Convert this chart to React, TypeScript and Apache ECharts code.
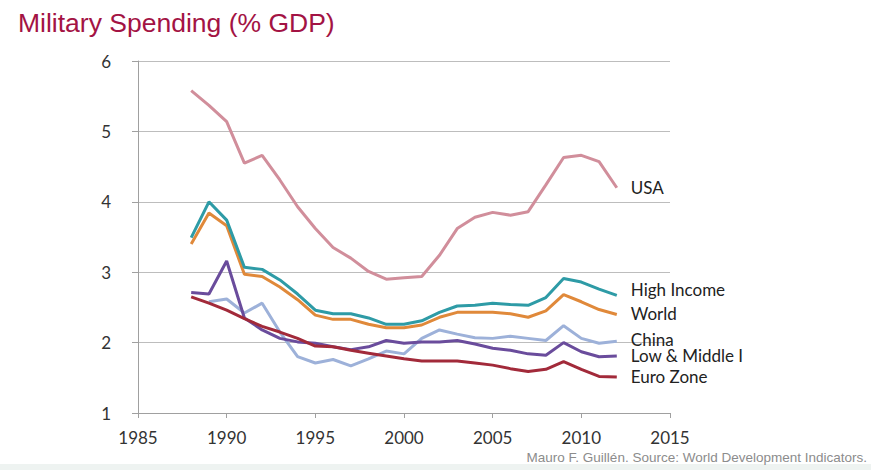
import React, { useEffect, useRef } from "react";
import * as echarts from "echarts";

const years = [1988, 1989, 1990, 1991, 1992, 1993, 1994, 1995, 1996, 1997, 1998, 1999, 2000, 2001, 2002, 2003, 2004, 2005, 2006, 2007, 2008, 2009, 2010, 2011, 2012];

const usa = [5.58, 5.37, 5.14, 4.55, 4.66, 4.31, 3.93, 3.62, 3.35, 3.2, 3.01, 2.9, 2.92, 2.94, 3.24, 3.62, 3.78, 3.85, 3.81, 3.86, 4.24, 4.63, 4.66, 4.57, 4.2];
const highIncome = [3.49, 4.0, 3.74, 3.07, 3.04, 2.89, 2.69, 2.46, 2.41, 2.41, 2.35, 2.26, 2.26, 2.31, 2.43, 2.52, 2.53, 2.56, 2.54, 2.53, 2.64, 2.91, 2.86, 2.76, 2.67];
const world = [3.4, 3.84, 3.66, 2.97, 2.94, 2.79, 2.61, 2.39, 2.33, 2.33, 2.26, 2.21, 2.21, 2.25, 2.36, 2.43, 2.43, 2.43, 2.41, 2.36, 2.45, 2.68, 2.58, 2.47, 2.4];
const china = [null, 2.58, 2.62, 2.42, 2.56, 2.15, 1.8, 1.71, 1.76, 1.67, 1.77, 1.88, 1.84, 2.06, 2.18, 2.12, 2.07, 2.06, 2.09, 2.06, 2.03, 2.24, 2.06, 1.99, 2.02];
const lowMiddle = [2.71, 2.69, 3.16, 2.35, 2.18, 2.06, 2.01, 1.99, 1.94, 1.9, 1.94, 2.03, 1.99, 2.01, 2.01, 2.03, 1.98, 1.92, 1.89, 1.84, 1.82, 2.0, 1.87, 1.8, 1.81];
const euroZone = [2.65, 2.56, 2.46, 2.34, 2.23, 2.15, 2.06, 1.95, 1.94, 1.89, 1.85, 1.81, 1.77, 1.74, 1.74, 1.74, 1.71, 1.68, 1.63, 1.59, 1.62, 1.73, 1.62, 1.52, 1.51];

const xTicks = { min: 1985, max: 2015, interval: 5 };
const yTicks = { min: 1, max: 6, interval: 1 };

const titleText = "Military Spending (% GDP)";
const sourceText = "Mauro F. Guillén. Source: World Development Indicators.";

const seriesDefs = [
  { name: "World", values: world, color: "#E0893A", dy: -1 },
  { name: "High Income", values: highIncome, color: "#2E9BA6", dy: -6 },
  { name: "China", values: china, color: "#9DB1D9", dy: -2 },
  { name: "Low & Middle I", values: lowMiddle, color: "#6A4C9C", dy: 0 },
  { name: "Euro Zone", values: euroZone, color: "#A22A3A", dy: -1 },
  { name: "USA", values: usa, color: "#D18E9B", dy: 0 },
];

const labelFont = "Lato, 'Open Sans', sans-serif";

export default function App() {
  const ref = useRef<HTMLDivElement>(null);
  useEffect(() => {
    if (!ref.current) return;
    const chart = echarts.init(ref.current, undefined, { renderer: "svg" });
    chart.setOption({
      animation: false,
      backgroundColor: "#ffffff",
      title: {
        text: titleText,
        left: 13,
        top: 4,
        textStyle: {
          fontFamily: "'Liberation Sans', Arial, sans-serif",
          fontSize: 26.5,
          fontWeight: "normal",
          color: "#A31344",
        },
      },
      grid: { left: 138, right: 201, top: 61, bottom: 57 },
      xAxis: {
        type: "value",
        min: xTicks.min,
        max: xTicks.max,
        interval: xTicks.interval,
        axisLine: { show: true, lineStyle: { color: "#a0a0a0", width: 1 } },
        axisTick: { show: true, length: 5, lineStyle: { color: "#a0a0a0" } },
        splitLine: { show: false },
        axisLabel: {
          margin: 16,
          color: "#333333",
          fontFamily: labelFont,
          fontSize: 17,
          formatter: (v: number) => String(v),
        },
      },
      yAxis: {
        type: "value",
        min: yTicks.min,
        max: yTicks.max,
        interval: yTicks.interval,
        axisLine: { show: true, lineStyle: { color: "#a0a0a0", width: 1 } },
        axisTick: { show: true, length: 6, lineStyle: { color: "#a0a0a0" } },
        splitLine: { show: true, lineStyle: { color: "#bdbdbd", width: 1 } },
        axisLabel: {
          margin: 27,
          color: "#333333",
          fontFamily: labelFont,
          fontSize: 17,
        },
      },
      series: seriesDefs.map((s) => ({
        type: "line",
        name: s.name,
        data: years
          .map((y, i) => [y, s.values[i]])
          .filter((p) => p[1] !== null && p[1] !== undefined),
        showSymbol: false,
        symbol: "none",
        lineStyle: { color: s.color, width: 3 },
        itemStyle: { color: s.color },
        endLabel: {
          show: true,
          formatter: "{a}",
          distance: 14,
          offset: [0, s.dy],
          color: "#222222",
          fontFamily: labelFont,
          fontSize: 17,
        },
        emphasis: { disabled: true },
      })),
      graphic: [
        {
          type: "rect",
          shape: { x: 0, y: 464, width: 871, height: 6 },
          style: { fill: "#eef3f1" },
          silent: true,
        },
        {
          type: "text",
          x: 867,
          y: 457,
          style: {
            text: sourceText,
            align: "right",
            verticalAlign: "middle",
            fill: "#8c8c8c",
            font: "13.5px 'Liberation Sans', Arial, sans-serif",
          },
          silent: true,
        },
      ],
    });
    return () => chart.dispose();
  }, []);
  return (
    <div
      ref={ref}
      style={{ position: "fixed", left: 0, top: 0, width: 871, height: 470 }}
    />
  );
}
